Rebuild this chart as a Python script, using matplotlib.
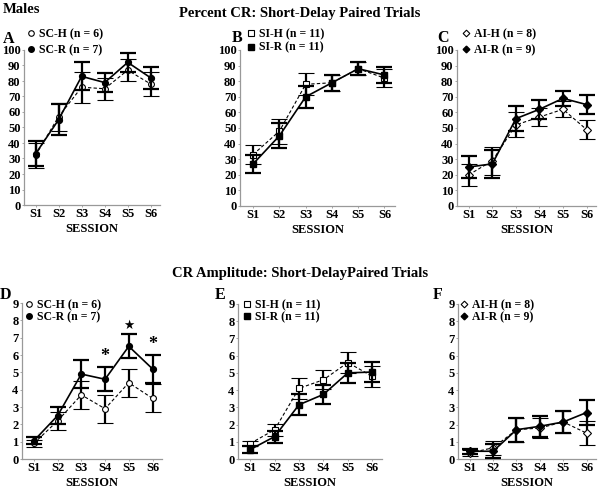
import numpy as np
import matplotlib
matplotlib.use("Agg")
import matplotlib.pyplot as plt
from matplotlib.lines import Line2D

plt.rcParams['font.family'] = ['Liberation Serif', 'DejaVu Sans']
plt.rcParams['font.weight'] = 'bold'

sessions = ["S1", "S2", "S3", "S4", "S5", "S6"]

# ── Percent CR ───────────────────────────────────────────────────────────────
sc_h_pct = [32, 57, 76, 75, 87, 78];  sc_h_pct_err = [8, 9, 10, 7, 7, 8]
sc_r_pct = [33, 55, 83, 79, 92, 82];  sc_r_pct_err = [8, 10, 9, 6, 6, 7]
si_h_pct = [33, 48, 78, 79, 88, 82];  si_h_pct_err = [6, 8, 7, 5, 4, 6]
si_r_pct = [27, 45, 70, 79, 88, 84];  si_r_pct_err = [6, 8, 7, 5, 4, 5]
ai_h_pct = [20, 29, 52, 57, 62, 49];  ai_h_pct_err = [7, 9, 8, 6, 5, 6]
ai_r_pct = [25, 27, 56, 62, 69, 65];  ai_r_pct_err = [7, 9, 8, 6, 5, 6]

# ── CR amplitude ─────────────────────────────────────────────────────────────
sc_h_amp = [0.9, 2.2, 3.7, 2.9, 4.4, 3.5];   sc_h_amp_err = [0.2, 0.5, 0.8, 0.8, 0.8, 0.8]
sc_r_amp = [1.05, 2.5, 4.9, 4.6, 6.5, 5.2];  sc_r_amp_err = [0.2, 0.5, 0.8, 0.7, 0.7, 0.8]
si_h_amp = [0.9, 1.7, 4.1, 4.6, 5.6, 4.8];   si_h_amp_err = [0.15, 0.35, 0.6, 0.55, 0.6, 0.6]
si_r_amp = [0.55, 1.3, 3.15, 3.75, 5.0, 5.05]; si_r_amp_err = [0.2, 0.35, 0.6, 0.55, 0.6, 0.6]
ai_h_amp = [0.35, 0.65, 1.7, 1.8, 2.15, 1.5]; ai_h_amp_err = [0.15, 0.4, 0.7, 0.6, 0.65, 0.7]
ai_r_amp = [0.45, 0.45, 1.7, 1.9, 2.15, 2.7]; ai_r_amp_err = [0.15, 0.4, 0.7, 0.6, 0.65, 0.7]

# significance marks for panel D (session index, symbol)
sig_marks = [(3, "*"), (4, "\u2605"), (5, "*")]

W, H = 600, 490
fig = plt.figure(figsize=(6.0, 4.9), dpi=100)
fig.patch.set_facecolor("white")


def px_axes(left, right, top, bottom):
    return fig.add_axes([left / W, 1 - bottom / H, (right - left) / W, (bottom - top) / H])


def draw(ax, h, h_err, r, r_err, marker, ms, ylim, yticks):
    x = np.arange(1, 7)
    ax.errorbar(x, h, yerr=h_err, color="black", ls=(0, (3, 2)), lw=0.8,
                marker=marker, mfc="white", mec="black", ms=ms, mew=0.8,
                elinewidth=1.6, capsize=6, capthick=1.6, zorder=3)
    ax.errorbar(x, r, yerr=r_err, color="black", ls="-", lw=1.2,
                marker=marker, mfc="black", mec="black", ms=ms,
                elinewidth=1.6, capsize=6, capthick=1.6, zorder=4)
    ax.set_xlim(0.5, 6.4)
    ax.set_ylim(*ylim)
    ax.set_xticks(x)
    ax.set_xticklabels(sessions)
    ax.set_yticks(yticks)
    for s in ("top", "right"):
        ax.spines[s].set_visible(False)
    for s in ("left", "bottom"):
        ax.spines[s].set_color("#999999")
        ax.spines[s].set_linewidth(0.9)
    ax.tick_params(length=1.5, width=0.6, color="#999999", labelsize=9, pad=1)
    for lab in ax.get_xticklabels() + ax.get_yticklabels():
        lab.set_fontweight("bold")
    ax.set_xlabel("SESSION", fontsize=9, fontweight="bold", labelpad=2)


def legend(ax, marker, ms, labels, x, y, spacing):
    handles = [Line2D([], [], ls="none", marker=marker, mfc="white", mec="black", ms=ms, mew=0.8),
               Line2D([], [], ls="none", marker=marker, mfc="black", mec="black", ms=ms)]
    ax.legend(handles, labels, loc="upper left", bbox_to_anchor=(x / W, 1 - y / H),
              bbox_transform=fig.transFigure, frameon=False, handlelength=0.7,
              handletextpad=0.3, labelspacing=spacing, borderpad=0, borderaxespad=0,
              prop={"weight": "bold", "size": 8.5})


pct_ticks = np.arange(0, 101, 10)
amp_ticks = np.arange(0, 10, 1)

axA = px_axes(24, 160, 50, 205)
draw(axA, sc_h_pct, sc_h_pct_err, sc_r_pct, sc_r_pct_err, "o", 4.2, (0, 100), pct_ticks)
legend(axA, "o", 4, ["SC-H (n = 6)", "SC-R (n = 7)"], 27, 28, 0.35)

axB = px_axes(240, 395, 50, 206)
draw(axB, si_h_pct, si_h_pct_err, si_r_pct, si_r_pct_err, "s", 4.2, (0, 100), pct_ticks)
legend(axB, "s", 4, ["SI-H (n = 11)", "SI-R (n = 11)"], 247, 28, 0.15)

axC = px_axes(457, 596, 50, 206)
draw(axC, ai_h_pct, ai_h_pct_err, ai_r_pct, ai_r_pct_err, "D", 3.6, (0, 100), pct_ticks)
legend(axC, "D", 3.4, ["AI-H (n = 8)", "AI-R (n = 9)"], 462, 28, 0.35)

axD = px_axes(22, 162, 303, 459)
draw(axD, sc_h_amp, sc_h_amp_err, sc_r_amp, sc_r_amp_err, "o", 4.2, (0, 9), amp_ticks)
legend(axD, "o", 4, ["SC-H (n = 6)", "SC-R (n = 7)"], 25, 299, 0.05)
for i, sym in sig_marks:
    top = sc_r_amp[i] + sc_r_amp_err[i]
    if sym == "*":
        axD.text(i + 1, top + 0.1, sym, ha="center", va="bottom", fontsize=13, fontweight="bold")
    else:
        axD.text(i + 1, top + 0.15, sym, ha="center", va="bottom", fontsize=9,
                 family="DejaVu Sans")

axE = px_axes(238, 382, 304, 459)
draw(axE, si_h_amp, si_h_amp_err, si_r_amp, si_r_amp_err, "s", 4.2, (0, 9), amp_ticks)
legend(axE, "s", 4, ["SI-H (n = 11)", "SI-R (n = 11)"], 243, 299, 0.05)

axF = px_axes(458, 596, 304, 459)
draw(axF, ai_h_amp, ai_h_amp_err, ai_r_amp, ai_r_amp_err, "D", 3.6, (0, 9), amp_ticks)
legend(axF, "D", 3.4, ["AI-H (n = 8)", "AI-R (n = 9)"], 460, 299, 0.05)

# panel letters
for lab, x, y in [("A", 3, 43), ("B", 232, 42), ("C", 437, 42),
                  ("D", 0, 299), ("E", 215, 299), ("F", 433, 299)]:
    fig.text(x / W, 1 - y / H, lab, fontsize=11.5, fontweight="bold", va="baseline")

fig.text(3 / W, 1 - 13 / H, "Males", fontsize=10.5, fontweight="bold", va="baseline")
fig.text(300 / W, 1 - 17 / H, "Percent CR: Short-Delay Paired Trials",
         fontsize=10.5, fontweight="bold", ha="center", va="baseline")
fig.text(300 / W, 1 - 277 / H, "CR Amplitude: Short-DelayPaired Trials",
         fontsize=10.5, fontweight="bold", ha="center", va="baseline")

fig.savefig("out.png", dpi=100, facecolor=fig.get_facecolor())
plt.close(fig)
